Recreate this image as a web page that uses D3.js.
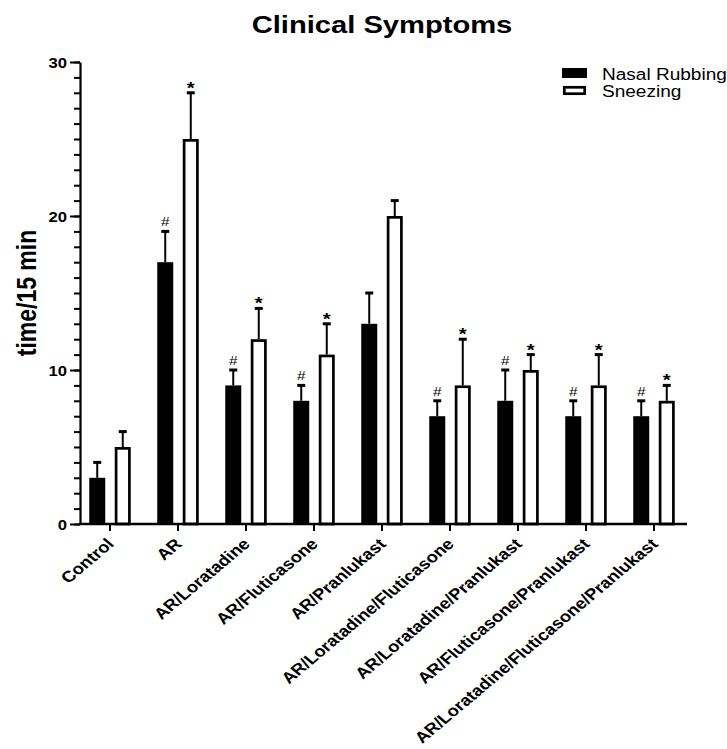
<!DOCTYPE html>
<head>
  <meta charset="utf-8">
  <script src="https://d3js.org/d3.v7.min.js"></script>
  <style>
body { margin: 0; background: white; }
svg { display: block; background-color: white; font-family: "Liberation Sans", Arial, sans-serif; }
  </style>
</head>
<body>
<svg width="727" height="749"></svg>
<script>
// data
var categories = ["Control", "AR", "AR/Loratadine", "AR/Fluticasone", "AR/Pranlukast",
  "AR/Loratadine/Fluticasone", "AR/Loratadine/Pranlukast", "AR/Fluticasone/Pranlukast",
  "AR/Loratadine/Fluticasone/Pranlukast"];
var seriesNames = ["Nasal Rubbing", "Sneezing"];
var nasal = [3, 17, 9, 8, 13, 7, 8, 7, 7];
var nasalErr = [1, 2, 1, 1, 2, 1, 2, 1, 1];
var sneezing = [5, 25, 12, 11, 20, 9, 10, 9, 8];
var sneezingErr = [1, 3, 2, 2, 1, 3, 1, 2, 1];
var nasalMark = ["", "#", "#", "#", "", "#", "#", "#", "#"];
var sneezingMark = ["", "*", "*", "*", "", "*", "*", "*", "*"];
var yMajor = [0, 10, 20, 30];

var SX = 1.19; // the original picture is stretched sideways

var svg = d3.select("svg");

var y = d3.scaleLinear().domain([0, 30]).range([524, 62]);
var x0 = d3.scaleBand().domain(categories).range([76, 688]).padding(0);
var x1 = d3.scaleBand().domain(seriesNames)
  .range([x0.bandwidth() / 2 - 20.75, x0.bandwidth() / 2 + 20.75])
  .paddingInner(0.373).paddingOuter(0);

var rows = categories.map(function(c, i) {
  return [
    {cat: c, s: seriesNames[0], v: nasal[i], e: nasalErr[i], m: nasalMark[i]},
    {cat: c, s: seriesNames[1], v: sneezing[i], e: sneezingErr[i], m: sneezingMark[i]}
  ];
});
var flat = [].concat.apply([], rows);

function cx(d) { return x0(d.cat) + x1(d.s) + x1.bandwidth() / 2; }

// title
svg.append("text")
  .attr("transform", "translate(382,33) scale(" + SX + ",1)")
  .attr("text-anchor", "middle")
  .style("font-size", "24.5px").style("font-weight", "bold")
  .text("Clinical Symptoms");

// y axis label
svg.append("text")
  .attr("transform", "translate(36,293) scale(" + SX + ",1) rotate(-90)")
  .attr("text-anchor", "middle")
  .style("font-size", "23px").style("font-weight", "bold")
  .text("time/15 min");

// bars
var g = svg.append("g");
g.selectAll("rect.nasal")
  .data(flat.filter(function(d) { return d.s == seriesNames[0]; }))
  .enter().append("rect")
  .attr("class", "nasal")
  .attr("x", function(d) { return cx(d) - x1.bandwidth() / 2; })
  .attr("y", function(d) { return y(d.v); })
  .attr("width", x1.bandwidth())
  .attr("height", function(d) { return y(0) - y(d.v); })
  .style("fill", "#000");

g.selectAll("rect.sneeze")
  .data(flat.filter(function(d) { return d.s == seriesNames[1]; }))
  .enter().append("rect")
  .attr("class", "sneeze")
  .attr("x", function(d) { return cx(d) - x1.bandwidth() / 2 + 1.35; })
  .attr("y", function(d) { return y(d.v) + 1.35; })
  .attr("width", x1.bandwidth() - 2.7)
  .attr("height", function(d) { return y(0) - y(d.v) - 1.35; })
  .style("fill", "#fff").style("stroke", "#000").style("stroke-width", 2.7);

// error bars (upper only)
g.selectAll("line.err")
  .data(flat).enter().append("line")
  .attr("class", "err")
  .attr("x1", cx).attr("x2", cx)
  .attr("y1", function(d) { return y(d.v); })
  .attr("y2", function(d) { return y(d.v + d.e); })
  .style("stroke", "#000").style("stroke-width", 2);

g.selectAll("line.cap")
  .data(flat).enter().append("line")
  .attr("class", "cap")
  .attr("x1", function(d) { return cx(d) - 4; })
  .attr("x2", function(d) { return cx(d) + 4; })
  .attr("y1", function(d) { return y(d.v + d.e); })
  .attr("y2", function(d) { return y(d.v + d.e); })
  .style("stroke", "#000").style("stroke-width", 3);

// significance marks
g.selectAll("text.mark")
  .data(flat.filter(function(d) { return d.m != ""; }))
  .enter().append("text")
  .attr("class", "mark")
  .attr("transform", function(d) {
    var by = d.m == "#" ? y(d.v + d.e) - 5 : y(d.v + d.e) + 1;
    return "translate(" + cx(d) + "," + by + ") scale(" + SX + ",1)";
  })
  .attr("text-anchor", "middle")
  .style("font-size", function(d) { return d.m == "#" ? "13px" : "17px"; })
  .style("font-weight", function(d) { return d.m == "#" ? "normal" : "bold"; })
  .text(function(d) { return d.m; });

// y axis: minor ticks every unit, then major ticks with labels
var minor = svg.append("g").attr("transform", "translate(80,0)")
  .call(d3.axisLeft(y).ticks(30).tickSize(6).tickSizeOuter(0).tickFormat(""));
minor.select(".domain").remove();
minor.selectAll("line").style("stroke-width", 2);

var yAxis = svg.append("g").attr("transform", "translate(80,0)")
  .call(d3.axisLeft(y).tickValues(yMajor).tickSize(10).tickSizeOuter(0).tickPadding(4));
yAxis.select(".domain").style("stroke-width", 2.2);
yAxis.selectAll("line").style("stroke-width", 2);
yAxis.selectAll("text")
  .attr("x", null).attr("dy", null)
  .attr("transform", "translate(-13,5) scale(" + SX + ",1)")
  .style("font-size", "14px").style("font-weight", "bold")
  .style("font-family", "Liberation Sans, Arial, sans-serif")
  .style("fill", "#000");

// x axis
var xAxis = svg.append("g").attr("transform", "translate(0," + y(0) + ")")
  .call(d3.axisBottom(x0).tickSize(7).tickSizeOuter(0));
xAxis.select(".domain").remove();
xAxis.selectAll("line").style("stroke-width", 2);
xAxis.selectAll("text")
  .attr("y", null).attr("dy", null)
  .attr("transform", "translate(5,21) scale(" + SX + ",1) rotate(-45)")
  .attr("text-anchor", "end")
  .style("font-size", "15.6px").style("font-weight", "bold")
  .style("font-family", "Liberation Sans, Arial, sans-serif")
  .style("fill", "#000");
svg.append("line")
  .attr("x1", 79).attr("x2", 687)
  .attr("y1", y(0)).attr("y2", y(0))
  .style("stroke", "#000").style("stroke-width", 2.4);

// legend
var legend = svg.append("g").attr("transform", "translate(562,68)");
legend.append("rect").attr("x", 0).attr("y", 0).attr("width", 25).attr("height", 10)
  .style("fill", "#000");
legend.append("rect").attr("x", 2.3).attr("y", 19.3).attr("width", 20.4).attr("height", 6.4)
  .style("fill", "#fff").style("stroke", "#000").style("stroke-width", 2.7);
legend.selectAll("text.leg")
  .data(seriesNames).enter().append("text")
  .attr("class", "leg")
  .attr("transform", function(d, i) { return "translate(40," + (12 + i * 17) + ") scale(" + SX + ",1)"; })
  .style("font-size", "16px")
  .text(function(d) { return d; });
</script>
</body>
</html>
